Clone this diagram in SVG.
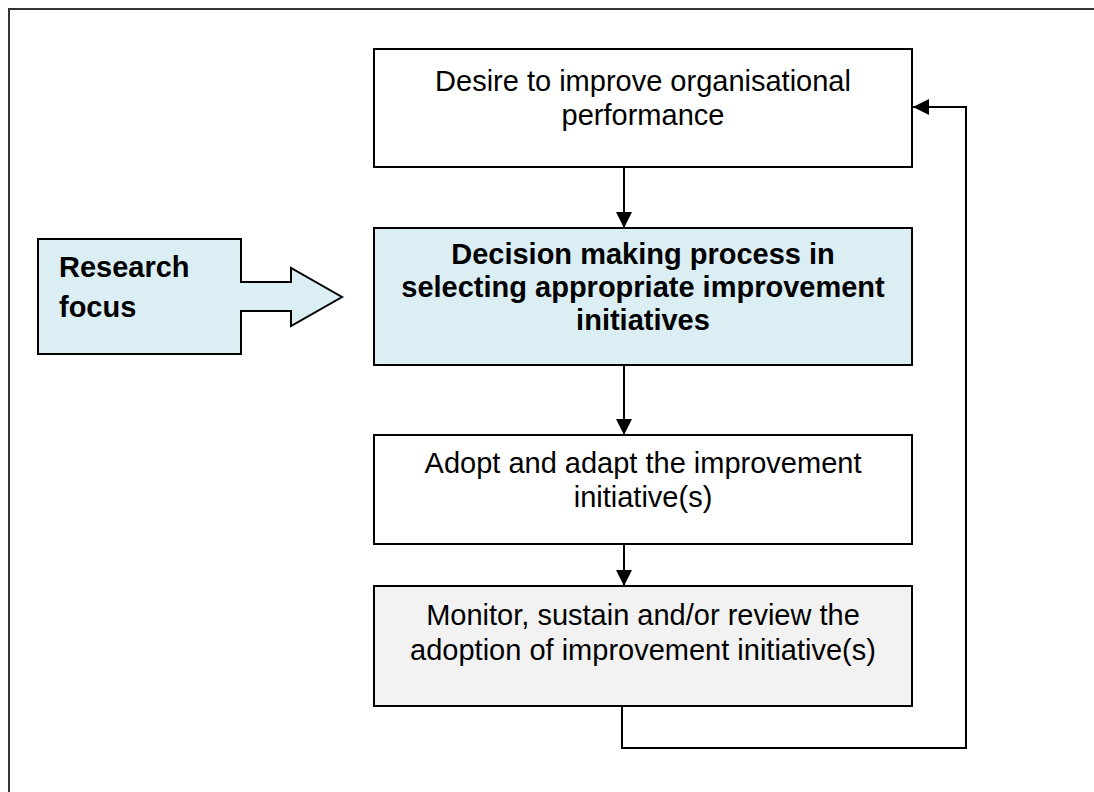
<svg xmlns="http://www.w3.org/2000/svg" width="1094" height="792" viewBox="0 0 1094 792">
<style>
.box{stroke:#000;stroke-width:2}
.t{font-family:"Liberation Sans",Arial,sans-serif;font-size:29px;fill:#000;text-anchor:middle}
.b{font-weight:bold}
.c{fill:none;stroke:#000;stroke-width:2}
</style>
<defs>
<marker id="ah" viewBox="0 0 16 16" refX="16" refY="8" markerWidth="16" markerHeight="16" markerUnits="userSpaceOnUse" orient="auto">
<path d="M0,0 L16,8 L0,16 Z" fill="#000"/>
</marker>
</defs>
<rect width="1094" height="792" fill="#fff"/>
<rect x="9" y="9" width="1100" height="800" fill="none" stroke="#333" stroke-width="2"/>
<g id="focus">
<path d="M38,239 H241 V282 H291 V268 L342,297 L291,326 V311 H241 V354 H38 Z" fill="#DAEEF3" stroke="#000" stroke-width="2"/>
<text class="t b" x="59" y="277" style="text-anchor:start">Research</text>
<text class="t b" x="59" y="317" style="text-anchor:start">focus</text>
</g>
<g id="n1">
<rect class="box" x="374" y="49" width="538" height="118" fill="#fff"/>
<text class="t" x="643" y="91">Desire to improve organisational</text>
<text class="t" x="643" y="125">performance</text>
</g>
<g id="n2">
<rect class="box" x="374" y="228" width="538" height="137" fill="#DAEEF3"/>
<text class="t b" x="643" y="264">Decision making process in</text>
<text class="t b" x="643" y="297">selecting appropriate improvement</text>
<text class="t b" x="643" y="330">initiatives</text>
</g>
<g id="n3">
<rect class="box" x="374" y="435" width="538" height="109" fill="#fff"/>
<text class="t" x="643" y="473">Adopt and adapt the improvement</text>
<text class="t" x="643" y="507">initiative(s)</text>
</g>
<g id="n4">
<rect class="box" x="374" y="586" width="538" height="120" fill="#F2F2F2"/>
<text class="t" x="643" y="625">Monitor, sustain and/or review the</text>
<text class="t" x="643" y="660">adoption of improvement initiative(s)</text>
</g>
<g id="connectors">
<path class="c" d="M624,167 V228" marker-end="url(#ah)"/>
<path class="c" d="M624,365 V435" marker-end="url(#ah)"/>
<path class="c" d="M624,544 V586" marker-end="url(#ah)"/>
<path class="c" d="M622,706 V748 H966 V107 H913" marker-end="url(#ah)"/>
</g>
</svg>
